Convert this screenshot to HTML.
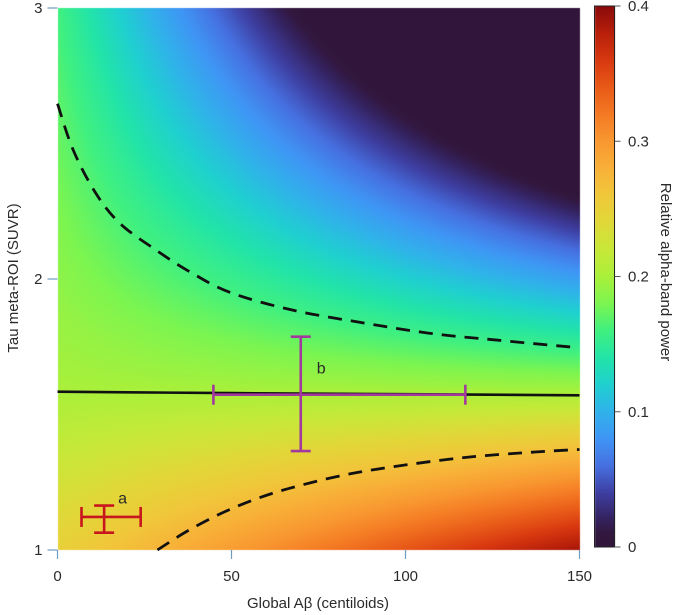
<!DOCTYPE html>
<html><head><meta charset="utf-8"><style>
html,body{margin:0;padding:0;background:#fff;}
#wrap{position:relative;width:685px;height:615px;overflow:hidden;font-family:"Liberation Sans",sans-serif;}
canvas,svg{position:absolute;left:0;top:0;}
</style></head><body>
<div id="wrap">
<canvas id="heat" width="685" height="615"></canvas>
<svg id="svg" width="685" height="615" xmlns="http://www.w3.org/2000/svg"></svg>
</div>
<script>
// ---- data ----
const gridX = [0, 25, 50, 75, 100, 125, 150];
const gridY = [1, 1.25, 1.58, 2, 2.5, 3];
const gridV = [
  [0.250, 0.273, 0.296, 0.319, 0.343, 0.366, 0.389],
  [0.228, 0.242, 0.255, 0.268, 0.281, 0.294, 0.308],
  [0.200, 0.200, 0.200, 0.200, 0.200, 0.200, 0.200],
  [0.188, 0.171, 0.155, 0.138, 0.121, 0.104, 0.087],
  [0.174, 0.137, 0.101, 0.064, 0.027, -0.010, -0.047],
  [0.160, 0.103, 0.047, -0.010, -0.067, -0.124, -0.181]
];
const solidX = [0, 50, 100, 150];
const solidY = [1.584, 1.579, 1.575, 1.571];
const upperX = [0, 4.5, 10.9, 17.8, 27.7, 37.6, 49.5, 67.3, 87, 106.8, 126.6, 148.4];
const upperY = [2.647, 2.476, 2.319, 2.207, 2.112, 2.03, 1.951, 1.886, 1.84, 1.80, 1.774, 1.748];
const lowerX = [28.7, 37.6, 47.5, 57.4, 67.3, 82.1, 96.9, 116.7, 136.5, 150];
const lowerY = [1.0, 1.072, 1.138, 1.19, 1.23, 1.276, 1.308, 1.341, 1.361, 1.371];
const barNames = ["a", "b"];
const barCX = [13.4, 69.9];
const barCY = [1.122, 1.573];
const barXLo = [6.9, 44.8];
const barXHi = [23.9, 117.2];
const barYLo = [1.064, 1.365];
const barYHi = [1.164, 1.787];
const xTicks = [0, 50, 100, 150];
const yTicks = [1, 2, 3];
const cTicks = [0, 0.1, 0.2, 0.3, 0.4];
const cmapV = [0,0.01,0.02,0.04,0.06,0.08,0.10,0.12,0.14,0.16,0.18,0.20,0.22,0.24,0.26,0.28,0.30,0.32,0.34,0.36,0.38,0.40];
const cmapC = ["#31153a","#32183f","#34215c","#3e3fa2","#4670e0","#3f95f5","#30b2ea","#1fd0d0","#22e4a8","#40f080","#7cf550","#aaf03a","#c8e838","#e0d838","#f0c83a","#f8b038","#f89830","#f47a24","#e85a18","#d83810","#b8200a","#8a0a0a"];

// ---- layout ----
const PL=57.5, PR=579.5, PT=8, PB=550;
const CBL=594.5, CBR=614.5, CBT=6, CBB=547;
const sx = v => PL + (v-0)/(150-0)*(PR-PL);
const sy = v => PB - (v-1)/(3-1)*(PB-PT);
const sc = v => CBB - v/0.4*(CBB-CBT);

function hex(h){return [parseInt(h.substr(1,2),16),parseInt(h.substr(3,2),16),parseInt(h.substr(5,2),16)];}
const cmapRGB = cmapC.map(hex);
function colorOf(v){
  v=Math.max(0,Math.min(0.4,v));
  for(let i=0;i<cmapV.length-1;i++){
    if(v<=cmapV[i+1]){const t=(v-cmapV[i])/(cmapV[i+1]-cmapV[i]);const a=cmapRGB[i],b=cmapRGB[i+1];
      return [a[0]+(b[0]-a[0])*t,a[1]+(b[1]-a[1])*t,a[2]+(b[2]-a[2])*t];}
  }
  return cmapRGB[cmapRGB.length-1];
}
function seg(arr,v){let i=0;while(i<arr.length-2&&v>arr[i+1])i++;return i;}
function valueAt(x,y){
  const i=seg(gridX,x), j=seg(gridY,y);
  const tx=(x-gridX[i])/(gridX[i+1]-gridX[i]), ty=(y-gridY[j])/(gridY[j+1]-gridY[j]);
  const a=gridV[j][i],b=gridV[j][i+1],c=gridV[j+1][i],d=gridV[j+1][i+1];
  return (a*(1-tx)+b*tx)*(1-ty)+(c*(1-tx)+d*tx)*ty;
}
// heatmap
const cv=document.getElementById('heat');const ctx=cv.getContext('2d');
const x0=Math.round(PL),x1=Math.round(PR),y0=Math.round(PT),y1=Math.round(PB);
const img=ctx.createImageData(x1-x0,y1-y0);
for(let py=y0;py<y1;py++){for(let px=x0;px<x1;px++){
  const xv=(px+0.5-PL)/(PR-PL)*150, yv=1+(PB-(py+0.5))/(PB-PT)*2;
  const c=colorOf(valueAt(xv,yv));const k=((py-y0)*(x1-x0)+(px-x0))*4;
  img.data[k]=c[0];img.data[k+1]=c[1];img.data[k+2]=c[2];img.data[k+3]=255;}}
ctx.putImageData(img,x0,y0);
// colorbar
const cb=ctx.createImageData(Math.round(CBR-CBL),Math.round(CBB-CBT));
for(let py=0;py<cb.height;py++){const v=0.4*(1-(py+0.5)/cb.height);const c=colorOf(v);
  for(let px=0;px<cb.width;px++){const k=(py*cb.width+px)*4;cb.data[k]=c[0];cb.data[k+1]=c[1];cb.data[k+2]=c[2];cb.data[k+3]=255;}}
ctx.putImageData(cb,Math.round(CBL),Math.round(CBT));

// ---- svg ----
const NS="http://www.w3.org/2000/svg";const svg=document.getElementById('svg');
function mk(tag,attrs,parent){const e=document.createElementNS(NS,tag);for(const k in attrs)e.setAttribute(k,attrs[k]);(parent||svg).appendChild(e);return e;}
function smoothPath(xs,ys){
  const p=xs.map((x,i)=>[sx(x),sy(ys[i])]);
  let d='M'+p[0][0].toFixed(1)+','+p[0][1].toFixed(1);
  for(let i=0;i<p.length-1;i++){
    const p0=p[Math.max(0,i-1)],p1=p[i],p2=p[i+1],p3=p[Math.min(p.length-1,i+2)];
    const c1=[p1[0]+(p2[0]-p0[0])/6,p1[1]+(p2[1]-p0[1])/6];
    const c2=[p2[0]-(p3[0]-p1[0])/6,p2[1]-(p3[1]-p1[1])/6];
    d+=' C'+c1[0].toFixed(1)+','+c1[1].toFixed(1)+' '+c2[0].toFixed(1)+','+c2[1].toFixed(1)+' '+p2[0].toFixed(1)+','+p2[1].toFixed(1);
  }
  return d;
}
const tickCol="#6f9cc0", txtCol="#2a2a2a";

let e=mk('rect',{x:CBL,y:CBT,width:CBR-CBL,height:CBB-CBT,fill:'none',stroke:'#222','stroke-width':1});



e=mk('path',{d:smoothPath(upperX,upperY),fill:'none',stroke:'#111','stroke-width':2.8,'stroke-dasharray':'14,9'});


e=mk('path',{d:smoothPath(lowerX,lowerY),fill:'none',stroke:'#111','stroke-width':2.8,'stroke-dasharray':'14,9'});


e=mk('path',{d:smoothPath(solidX,solidY),fill:'none',stroke:'#111','stroke-width':2.6});



const barCols=["#c8161e","#a23a9e"];
const capW=[5,5];
barNames.forEach((n,i)=>{
  const g=mk('g',{stroke:barCols[i],'stroke-width':2.6,fill:'none'});
  
  
  const cx=sx(barCX[i]),cy=sy(barCY[i]);
  mk('line',{x1:sx(barXLo[i]),x2:sx(barXHi[i]),y1:cy,y2:cy},g);
  mk('line',{x1:cx,x2:cx,y1:sy(barYLo[i]),y2:sy(barYHi[i])},g);
  mk('line',{x1:sx(barXLo[i]),x2:sx(barXLo[i]),y1:cy-capW[i]*2,y2:cy+capW[i]*2},g);
  mk('line',{x1:sx(barXHi[i]),x2:sx(barXHi[i]),y1:cy-capW[i]*2,y2:cy+capW[i]*2},g);
  mk('line',{x1:cx-capW[i]*2,x2:cx+capW[i]*2,y1:sy(barYLo[i]),y2:sy(barYLo[i])},g);
  mk('line',{x1:cx-capW[i]*2,x2:cx+capW[i]*2,y1:sy(barYHi[i]),y2:sy(barYHi[i])},g);
  const t=mk('text',{x:cx+(i==0?14:16),y:sy(barYHi[i])+(i==0?-2:37),'font-size':16,fill:txtCol});
  t.textContent=n;
  
  
});

xTicks.forEach(v=>{
  const l=mk('line',{x1:sx(v),x2:sx(v),y1:PB,y2:PB+9,stroke:tickCol,'stroke-width':1.2});
  
  
  const t=mk('text',{x:sx(v),y:PB+31,'text-anchor':'middle','font-size':15,fill:txtCol});t.textContent=v;
  
  
});
yTicks.forEach(v=>{
  const l=mk('line',{x1:PL-10,x2:PL,y1:sy(v),y2:sy(v),stroke:tickCol,'stroke-width':1.2});
  
  
  const t=mk('text',{x:PL-15,y:sy(v)+5,'text-anchor':'end','font-size':15,fill:txtCol});t.textContent=v;
  
  
});
cTicks.forEach(v=>{
  const l=mk('line',{x1:CBR,x2:CBR+6,y1:sc(v),y2:sc(v),stroke:'#555','stroke-width':1});
  
  
  const t=mk('text',{x:628,y:sc(v)+5,'font-size':15,fill:txtCol});t.textContent=v;
  
  
});
let t=mk('text',{x:318,y:608,'text-anchor':'middle','font-size':15,fill:txtCol});t.textContent='Global Aβ (centiloids)';


t=mk('text',{x:0,y:0,'text-anchor':'middle','font-size':15,fill:txtCol,transform:'translate(18,278) rotate(-90)'});t.textContent='Tau meta-ROI (SUVR)';


t=mk('text',{x:0,y:0,'text-anchor':'middle','font-size':15,fill:txtCol,transform:'translate(661,272) rotate(90)'});t.textContent='Relative alpha-band power';


</script>
</body></html>
